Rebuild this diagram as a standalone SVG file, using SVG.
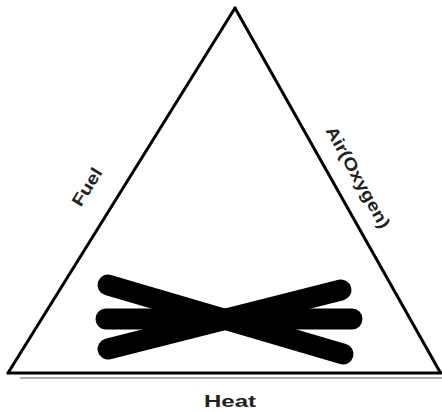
<svg xmlns="http://www.w3.org/2000/svg" width="442" height="412" viewBox="0 0 442 412">
<style>
.edge{stroke:#000;stroke-width:3;fill:none;stroke-linecap:round}
.bar{stroke:#000;stroke-width:21;stroke-linecap:round;fill:none}
.lbl{font-family:"Liberation Sans",Arial,sans-serif;font-weight:bold;font-size:17px;fill:#222}
</style>
<rect width="442" height="412" fill="#fff"/>
<g id="connectors">
<line class="edge" x1="235" y1="8" x2="8" y2="373"/>
<line class="edge" x1="235" y1="8" x2="440" y2="372"/>
<line class="edge" x1="8" y1="373" x2="442" y2="373"/>
<line x1="20" y1="378" x2="442" y2="378" stroke="#aaa" stroke-width="2"/>
</g>
<g id="fuel"><text class="lbl" transform="translate(92,190) rotate(-58)" text-anchor="middle" textLength="42" lengthAdjust="spacingAndGlyphs">Fuel</text></g>
<g id="air"><text class="lbl" transform="translate(353,180) rotate(61)" text-anchor="middle" textLength="114" lengthAdjust="spacingAndGlyphs">Air(Oxygen)</text></g>
<g id="heat"><text class="lbl" x="230" y="407" text-anchor="middle" textLength="52" lengthAdjust="spacingAndGlyphs">Heat</text></g>
<g id="fire-out">
<line class="bar" x1="108" y1="285" x2="343" y2="354"/>
<line class="bar" x1="108" y1="349" x2="341" y2="290"/>
<line class="bar" x1="106" y1="319" x2="352" y2="319"/>
</g>
</svg>
